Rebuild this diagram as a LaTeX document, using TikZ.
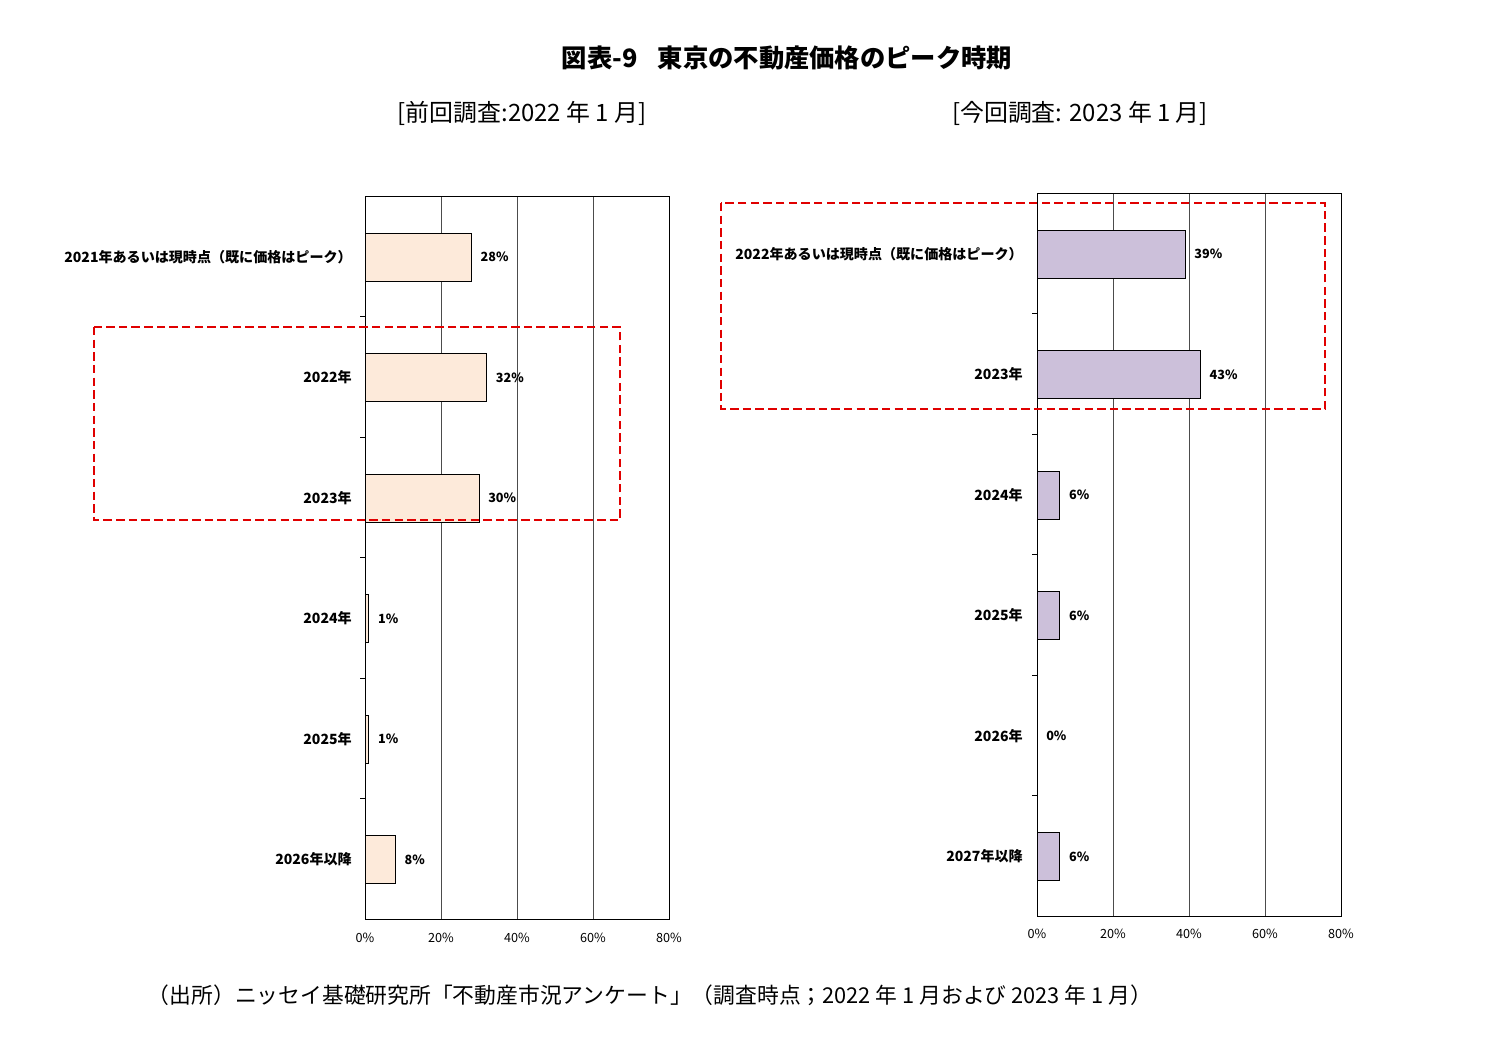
\documentclass[tikz,border=0pt]{standalone}
\usepackage{fontspec}
\setmainfont{Noto Sans CJK JP}
\definecolor{peach}{HTML}{FDEADA}
\definecolor{lav}{HTML}{CCC0DA}
\definecolor{rd}{HTML}{E00000}
\begin{document}
\begin{tikzpicture}[x={(0.025cm,0)},y={(0,-0.025cm)},
  cat/.style={anchor=east,font=\bfseries\fontsize{10}{12}\selectfont,inner sep=0pt},
  pct/.style={anchor=west,font=\bfseries\fontsize{9}{11}\selectfont,inner sep=0pt},
  axl/.style={anchor=north,font=\fontsize{9}{11}\selectfont,inner sep=0pt},
  redbox/.style={draw=rd,line width=1.3pt,dash pattern=on 6pt off 3pt},
  grid/.style={draw=black!70,line width=0.5pt}]
\useasboundingbox (0,0) rectangle (1488,1052);
\fill[white] (0,0) rectangle (1488,1052);
\node[font=\bfseries\fontsize{18}{21}\selectfont] (title) at (787,58) {図表-9\hspace{0.8em}東京の不動産価格のピーク時期};
\node[font=\fontsize{17}{20}\selectfont] (s1) at (522,113) {[前回調査:2022 年 1 月]};
\node[font=\fontsize{17}{20}\selectfont] (s2) at (1080,113) {[今回調査: 2023 年 1 月]};
\node[font=\fontsize{15.5}{18}\selectfont] (src) at (650,995) {（出所）ニッセイ基礎研究所「不動産市況アンケート」（調査時点；2022 年 1 月および 2023 年 1 月）};
% left chart
\foreach \g in {441,517,593} \draw[grid] (\g,196) -- (\g,919);
\draw[black,line width=0.6pt] (365,196) rectangle (669,919);
\foreach \k in {1,...,5} \draw (360,{196+120.5*\k}) -- (365,{196+120.5*\k});
\foreach \v/\p in {0/365,20/441,40/517,60/593,80/669} \node[axl] at (\p,933) {\v\%};
\foreach \i/\lab/\val in {0/2021年あるいは現時点（既に価格はピーク）/28,1/2022年/32,2/2023年/30,3/2024年/1,4/2025年/1,5/2026年以降/8}{
  \pgfmathsetmacro\yc{257+120.5*\i}
  \draw[fill=peach,line width=0.5pt] (365,\yc-24) rectangle ({365+3.8*\val},\yc+24);
  \node[cat] (L\i) at (352,\yc) {\lab};
  \node[pct] (LP\i) at ({365+3.8*\val+9},\yc) {\val\%};
}
\draw[redbox] (94,327) rectangle (620,520);
% right chart
\foreach \g in {1113,1189,1265} \draw[grid] (\g,193) -- (\g,916);
\draw[black,line width=0.6pt] (1037,193) rectangle (1341,916);
\foreach \k in {1,...,5} \draw (1032,{193+120.5*\k}) -- (1037,{193+120.5*\k});
\foreach \v/\p in {0/1037,20/1113,40/1189,60/1265,80/1341} \node[axl] at (\p,929) {\v\%};
\foreach \i/\lab/\val in {0/2022年あるいは現時点（既に価格はピーク）/39,1/2023年/43,2/2024年/6,3/2025年/6,4/2026年/0,5/2027年以降/6}{
  \pgfmathsetmacro\yc{254+120.5*\i}
  \ifnum\val>0 \draw[fill=lav,line width=0.5pt] (1037,\yc-24) rectangle ({1037+3.8*\val},\yc+24);\fi
  \node[cat] (R\i) at (1023,\yc) {\lab};
  \node[pct] (RP\i) at ({1037+3.8*\val+9},\yc) {\val\%};
}
\draw[redbox] (721,203) rectangle (1325,409);
\end{tikzpicture}
\end{document}
